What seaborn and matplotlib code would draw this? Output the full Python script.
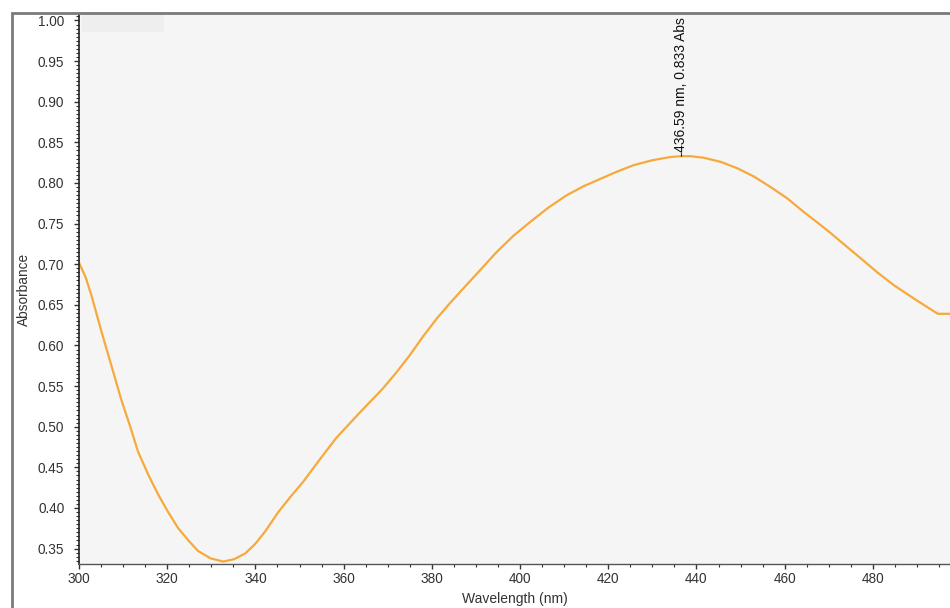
import numpy as np
import pandas as pd
import matplotlib
matplotlib.use("Agg")
import matplotlib.pyplot as plt
from matplotlib.patches import Rectangle
from matplotlib.ticker import MultipleLocator, FormatStrFormatter
import seaborn as sns

# Data
wavelength = [300.0, 301.5, 302.8, 305.1, 307.3, 309.6, 311.5, 313.4, 315.7, 318.0,
              320.2, 322.5, 324.8, 327.0, 329.8, 332.7, 335.2, 337.7, 340.0, 342.2,
              345.2, 348.0, 350.8, 354.5, 358.3, 363.6, 368.9, 372.0, 375.0, 378.0,
              381.1, 384.1, 387.1, 391.0, 394.7, 398.5, 402.3, 406.5, 410.6, 414.4,
              418.2, 422.0, 425.8, 430.0, 434.1, 436.59, 438.6, 441.7, 445.5, 449.3,
              453.0, 456.8, 460.6, 464.4, 468.2, 470.5, 474.0, 477.3, 481.0, 484.8,
              489.8, 494.7, 497.7]
absorbance = [0.702, 0.684, 0.662, 0.617, 0.576, 0.533, 0.502, 0.469, 0.441, 0.416,
              0.395, 0.375, 0.360, 0.347, 0.338, 0.334, 0.337, 0.344, 0.356, 0.371,
              0.395, 0.414, 0.432, 0.459, 0.486, 0.517, 0.547, 0.567, 0.588, 0.611,
              0.633, 0.652, 0.670, 0.693, 0.715, 0.735, 0.752, 0.770, 0.785, 0.796,
              0.805, 0.814, 0.822, 0.828, 0.832, 0.833, 0.833, 0.831, 0.826, 0.818,
              0.808, 0.795, 0.781, 0.764, 0.748, 0.738, 0.722, 0.707, 0.690, 0.674,
              0.656, 0.639, 0.639]
peak_nm = 436.59
peak_abs = 0.833
peak_label = "436.59 nm, 0.833 Abs"
x_label = "Wavelength (nm)"
y_label = "Absorbance"

df = pd.DataFrame({"Wavelength": wavelength, "Absorbance": absorbance})

sns.set_style("white")
plt.rcParams['font.family'] = ['Liberation Sans', 'DejaVu Sans']

fig = plt.figure(figsize=(9.5, 6.08), dpi=100)
fig.patch.set_facecolor("white")

# outer frame (partially cut off at right/bottom)
frame = Rectangle((12 / 950, -0.05), 1.2, 1 - 13 / 608 + 0.05, transform=fig.transFigure,
                  fill=False, edgecolor="#7a7a7a", linewidth=2.0, zorder=0)
fig.patches.append(frame)

ax = fig.add_axes([79 / 950, 1 - 564 / 608, 1 - 79 / 950 + 0.001, (564 - 14) / 608])
ax.set_facecolor("#f5f5f5")

sns.lineplot(data=df, x="Wavelength", y="Absorbance", ax=ax, color="#F7A93B",
             linewidth=1.6, sort=False, estimator=None)

ax.set_xlim(300, 497.7)
ax.set_ylim(0.331, 1.008)

ax.xaxis.set_major_locator(MultipleLocator(20))
ax.xaxis.set_minor_locator(MultipleLocator(5))
ax.yaxis.set_major_locator(MultipleLocator(0.05))
ax.yaxis.set_minor_locator(MultipleLocator(0.005))
ax.yaxis.set_major_formatter(FormatStrFormatter("%.2f"))

ax.tick_params(axis="both", which="both", bottom=True, left=True, top=False, right=False)
ax.tick_params(axis="both", which="major", direction="out", length=3.6, width=1,
               color="#333333", labelsize=9.8, labelcolor="#333333")
ax.tick_params(axis="x", which="major", pad=2.5)
ax.tick_params(axis="y", which="major", pad=7)
ax.tick_params(axis="both", which="minor", direction="out", length=2, width=0.8,
               color="#333333")

for s in ["top", "right"]:
    ax.spines[s].set_visible(False)
ax.spines["left"].set_color("#222222")
ax.spines["left"].set_linewidth(1.2)
ax.spines["bottom"].set_color("#555555")
ax.spines["bottom"].set_linewidth(1.0)

ax.set_xlabel(x_label, fontsize=10, color="#333333", labelpad=4)
ax.set_ylabel(y_label, fontsize=9.8, color="#333333", labelpad=5)

# faint legend placeholder box at top-left
ax.add_patch(Rectangle((0.004, 0.967), 0.093, 0.031, transform=ax.transAxes,
                       facecolor="#eeeeee", edgecolor="none", zorder=1))

# peak annotation
ax.plot([peak_nm, peak_nm], [peak_abs, peak_abs + 0.004], color="#333333", linewidth=0.8)
ax.text(peak_nm, peak_abs + 0.005, peak_label, rotation=90, ha="center", va="bottom",
        fontsize=10, color="#111111")

fig.savefig("out.png", dpi=100)
